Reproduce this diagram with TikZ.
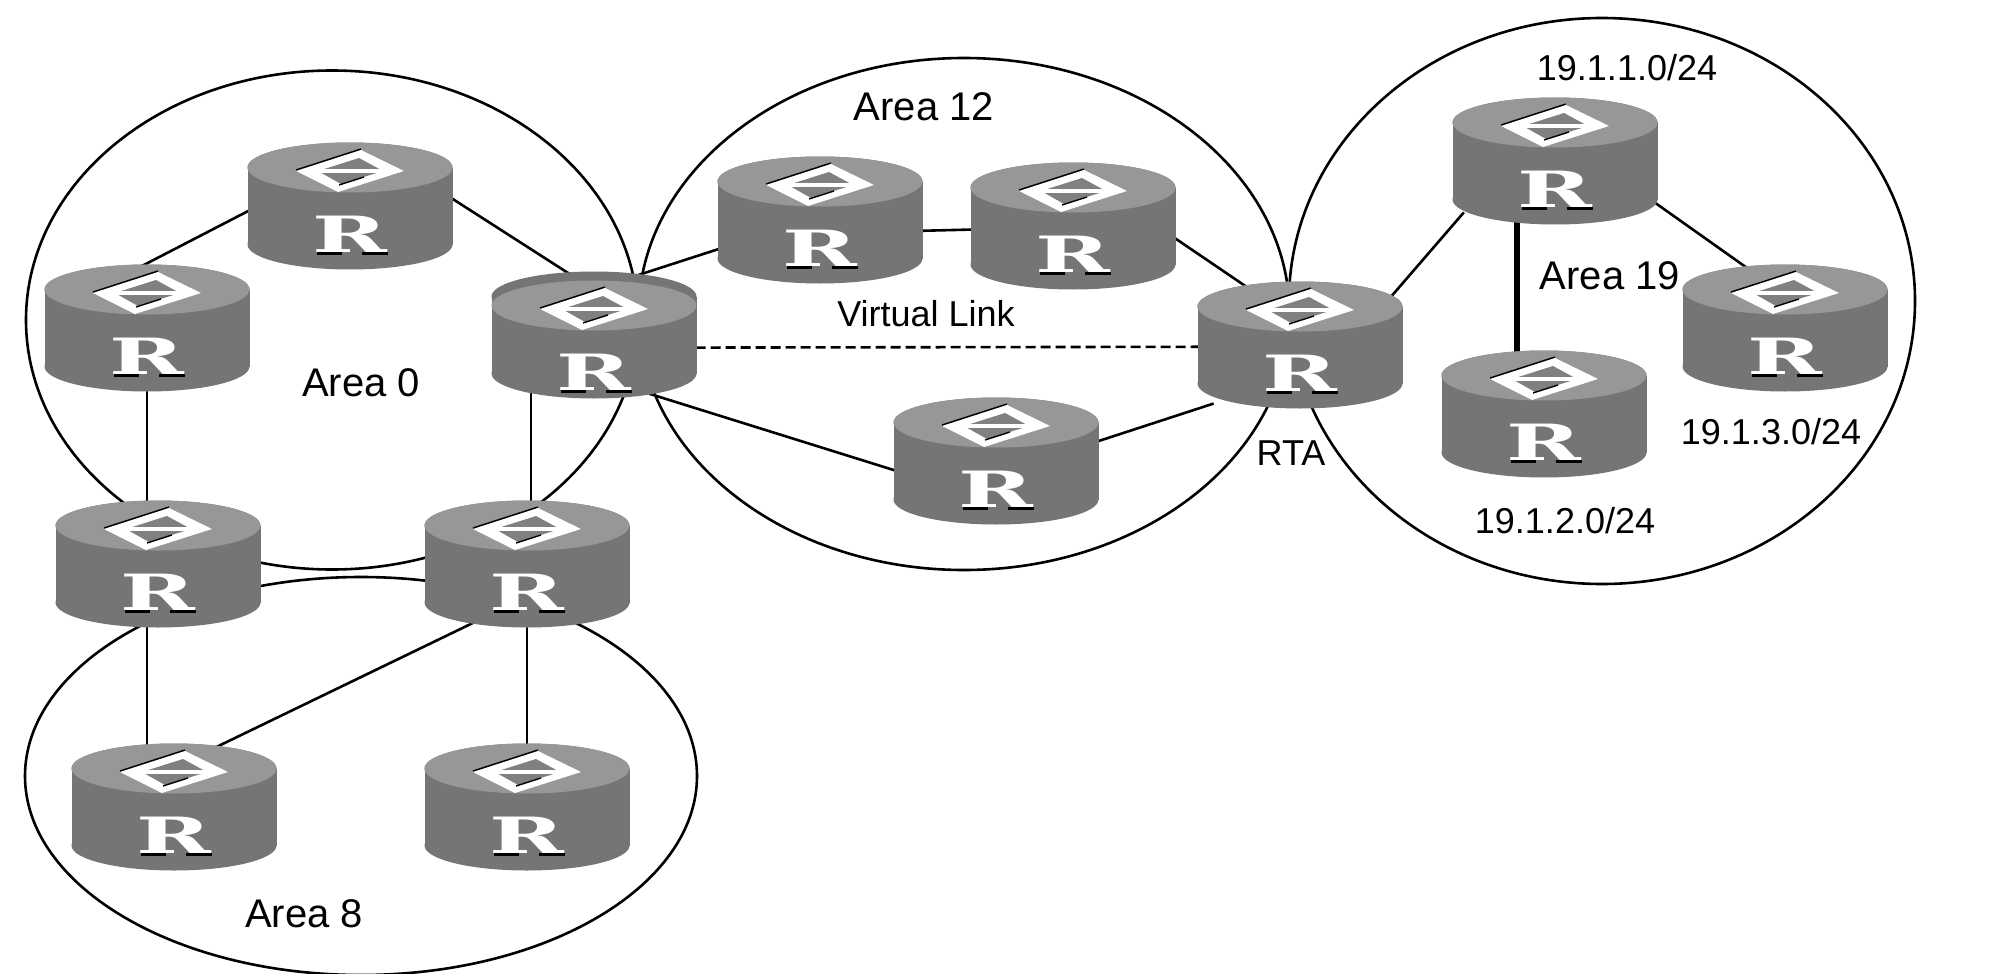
\documentclass[tikz,border=0pt]{standalone}
\usepackage{fontspec}
\setmainfont{Liberation Sans}
\newfontfamily\rfont{DejaVu Serif}
\usetikzlibrary{calc, shapes.geometric, backgrounds}
\definecolor{rtop}{HTML}{979797}
\definecolor{rbody}{HTML}{757575}
\definecolor{rinner}{HTML}{808080}
\tikzset{
  every picture/.style={line width=1.3pt},
  area/.style={draw, ellipse, inner sep=0pt, minimum width=#1},
  router/.style={rectangle, inner sep=0pt, outer sep=0pt, minimum width=102.5pt, minimum height=63.5pt},
  rletter/.style={text=white, inner sep=0pt, font=\rfont\bfseries\fontsize{25}{25}\selectfont},
  areatext/.style={font=\fontsize{20}{24}\selectfont, inner sep=0pt},
  nettext/.style={font=\fontsize{18}{22}\selectfont, inner sep=0pt},
  link/.style={line width=1.3pt, shorten <=-8pt, shorten >=-8pt},
}

\begin{document}
\begin{tikzpicture}[x=0.5pt, y=-0.5pt]
  \useasboundingbox (0,0) rectangle (2002,974);
  % areas
  \node[area=306pt, minimum height=249.5pt] (area0) at (332,320) {};
  \node[area=325.5pt, minimum height=256pt] (area12) at (964,314) {};
  \node[area=313pt, minimum height=283pt] (area19) at (1602,301) {};
  \node[area=336pt, minimum height=199pt] (area8) at (361,776) {};
  % routers
  \foreach \rname/\rx/\ry/\dz in {R1/350/206/0, R2/147/328/0, R3/594/335/9, R4/158/564/0, R5/527/564/0, R6/174/807/0, R7/527/807/0,
    R8/820/220/0, R9/1073/226/0, R10/1300/345/0, R11/996/461/0, R12/1555/161/0, R13/1544/414/0, R14/1785/328/0} {
    \node[router] (\rname) at (\rx,\ry) {};
    \begin{scope}[shift={(\rname.center)}]
      \fill[rbody] (0,38.5) ellipse [x radius=51.25pt, y radius=12.5pt];
      \fill[rbody] (-102.5,-38.5) rectangle (102.5,38.5);
      \fill[rbody] (0,-38.5) ellipse [x radius=51.25pt, y radius=12.5pt];
      \fill[rtop] (0,-38.5+\dz) ellipse [x radius=51.25pt, y radius=12.5pt];
      \begin{scope}[yshift={-0.5pt*(\dz-35)}]
        \fill[white] (-54,0) -- (11,-21) -- (54,0) -- (-12,21) -- cycle;
        \fill[rinner] (-32,0) -- (9,-13) -- (33,0) -- (-9,13) -- cycle;
        \draw[white, line width=2pt] (-36,0) -- (36,0);
        \draw[line width=0.7pt] (-54,-1) -- (11,-22);
        \draw[line width=0.7pt] (-11,14) -- (14,6);
      \end{scope}
      \fill[black] (-33,46+\dz) rectangle (-8,48.5+\dz);
      \fill[black] (12,46+\dz) rectangle (38,48.5+\dz);
    \end{scope}
    \node[rletter] (\rname letter) at ($(\rname.center)+(0,28+\dz)$) {\scalebox{1.8}[1]{R}};
  }
  % links
  \begin{pgfonlayer}{background}
    \draw[link] (R2.92) -- (R1.183);
    \draw[link] (R1.4) -- (R3.114);
    \draw[link] (R3.49) -- (R8.196);
    \draw[link] (R8.-6) -- (R9.182);
    \draw[link] (R9.-7) -- (R10.134);
    \draw[link] (R10.31) -- (R12.212);
    \draw[link] (R12.-23) -- (R14.124);
    \draw[link] (R3.-42) -- (R11.185);
    \draw[link] (R11.11) -- (R10.212);
    \draw[link] (R5.225) -- (R6.52);
    \draw[link] (R2.center) -- (R2.center |- R4.center);
    \draw[link] (R2.center |- R4.center) -- (R2.center |- R6.center);
    \draw[link] ($(R5.center)+(4,0)$) -- ($(R3.center -| R5.center)+(4,0)$);
    \draw[link] (R5.center) -- (R7.center);
    \draw[link, line width=2.6pt] ($(R12.center)+(-38,0)$) -- ($(R13.center)+(-27,0)$);
    \draw[link, dash pattern=on 5pt off 2.5pt] (R3.-7) -- (R10.181);
  \end{pgfonlayer}
  % labels
  \node[areatext] (a0text) at (361,383) {Area 0};
  \node[areatext] (a8text) at (304,914) {Area 8};
  \node[areatext] (a12text) at (924,107) {Area 12};
  \node[areatext] (a19text) at (1610,276) {Area 19};
  \node[nettext] (vltext) at (926,314) {Virtual Link};
  \node[nettext] (rtatext) at (1291,453) {RTA};
  \node[nettext] (net1) at (1627,68) {19.1.1.0/24};
  \node[nettext] (net2) at (1565,521) {19.1.2.0/24};
  \node[nettext] (net3) at (1771,432) {19.1.3.0/24};
\end{tikzpicture}
\end{document}
